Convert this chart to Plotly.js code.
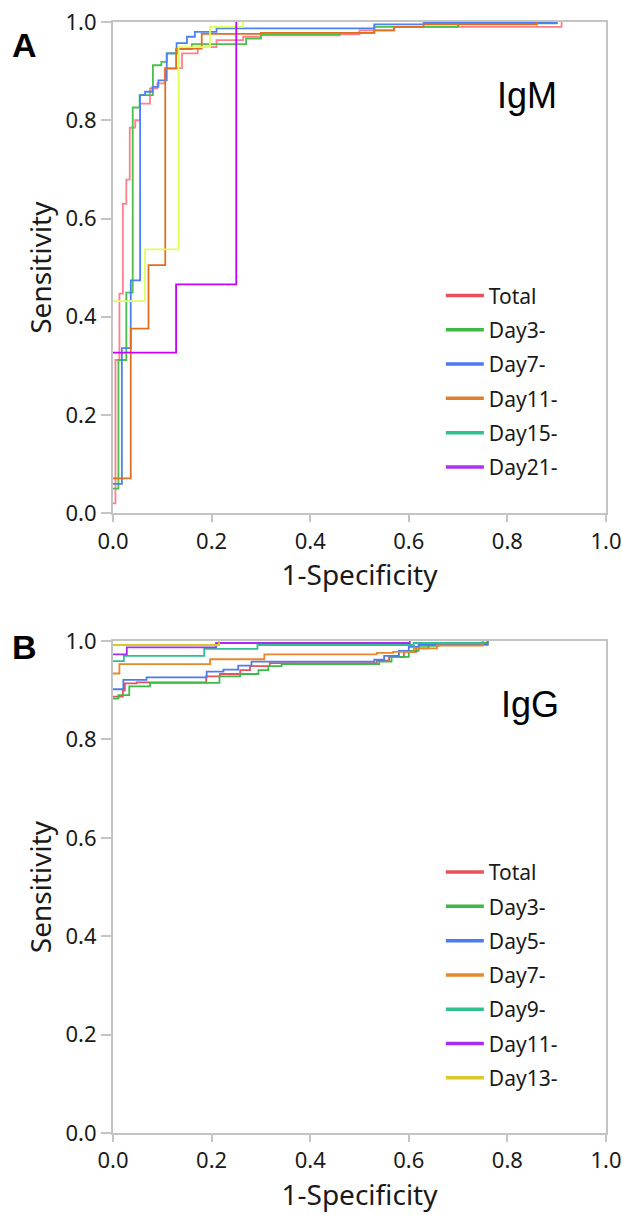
<!DOCTYPE html>
<html><head><meta charset="utf-8">
<script src="https://cdn.plot.ly/plotly-3.0.1.min.js"></script>
<style>body{margin:0;background:#fff}#chart{width:622px;height:1215px}</style>
</head><body><div id="chart"></div>
<script>
// ---------- Panel A (IgM) ----------
const namesA = ['Total','Day3-','Day7-','Day11-','Day15-','Day21-'];
const legendColorsA = ['#e8505b','#3dba45','#4a7cf0','#e0802c','#2ec08f','#b030f0'];
const lineColorsA = ['#ff7f8c','#4cc04c','#4a82f5','#e07020','#dcff5a','#c800ff'];
const fprA_Total = [0, 0.005, 0.013, 0.02, 0.027, 0.034, 0.045, 0.055, 0.075, 0.09, 0.105, 0.14, 0.172, 0.21, 0.264, 0.30, 0.46, 0.50, 0.57, 0.91];
const tprA_Total = [0.02, 0.312, 0.447, 0.63, 0.679, 0.785, 0.80, 0.834, 0.865, 0.875, 0.906, 0.936, 0.949, 0.963, 0.97, 0.973, 0.975, 0.983, 0.99, 1.0];
const fprA_Day3 = [0, 0.011, 0.027, 0.04, 0.054, 0.081, 0.098, 0.109, 0.13, 0.16, 0.27, 0.30, 0.46, 0.53, 0.70, 0.90];
const tprA_Day3 = [0.05, 0.312, 0.449, 0.826, 0.851, 0.912, 0.919, 0.936, 0.945, 0.955, 0.966, 0.975, 0.978, 0.99, 0.997, 1.0];
const fprA_Day7 = [0, 0.018, 0.036, 0.055, 0.065, 0.08, 0.092, 0.109, 0.129, 0.15, 0.166, 0.21, 0.53, 0.63, 0.90];
const tprA_Day7 = [0.06, 0.336, 0.474, 0.851, 0.858, 0.868, 0.881, 0.936, 0.957, 0.97, 0.98, 0.987, 0.995, 0.998, 1.0];
const fprA_Day11 = [0, 0.036, 0.072, 0.106, 0.128, 0.18, 0.30, 0.53, 0.57, 0.63, 0.86];
const tprA_Day11 = [0.071, 0.376, 0.505, 0.905, 0.946, 0.976, 0.978, 0.983, 0.99, 0.995, 1.0];
const fprA_Day15 = [0, 0.065, 0.133, 0.197, 0.264];
const tprA_Day15 = [0.432, 0.537, 0.949, 0.99, 1.0];
const fprA_Day21 = [0, 0.128, 0.25];
const tprA_Day21 = [0.327, 0.466, 1.0];
const seriesA = [[fprA_Total,tprA_Total],[fprA_Day3,tprA_Day3],[fprA_Day7,tprA_Day7],[fprA_Day11,tprA_Day11],[fprA_Day15,tprA_Day15],[fprA_Day21,tprA_Day21]];

// ---------- Panel B (IgG) ----------
const namesB = ['Total','Day3-','Day5-','Day7-','Day9-','Day11-','Day13-'];
const colorsB = ['#e8505b','#3dba45','#4a7cf0','#e8872c','#2ec08f','#a52cf0','#d8c82a'];
const fprB_Total = [0, 0.02, 0.024, 0.048, 0.189, 0.217, 0.258, 0.278, 0.318, 0.535, 0.56, 0.59, 0.615, 0.64, 0.76];
const tprB_Total = [0.887, 0.90, 0.914, 0.916, 0.928, 0.933, 0.941, 0.949, 0.955, 0.96, 0.968, 0.978, 0.985, 0.993, 1.0];
const fprB_Day3 = [0, 0.011, 0.033, 0.075, 0.216, 0.258, 0.295, 0.315, 0.342, 0.54, 0.565, 0.60, 0.62, 0.66, 0.76];
const tprB_Day3 = [0.883, 0.89, 0.908, 0.915, 0.928, 0.933, 0.941, 0.949, 0.953, 0.958, 0.968, 0.98, 0.99, 0.996, 1.0];
const fprB_Day5 = [0, 0.021, 0.068, 0.19, 0.224, 0.254, 0.281, 0.53, 0.55, 0.58, 0.60, 0.62, 0.76];
const tprB_Day5 = [0.902, 0.921, 0.926, 0.938, 0.942, 0.95, 0.958, 0.962, 0.97, 0.98, 0.988, 0.993, 1.0];
const fprB_Day7 = [0, 0.013, 0.197, 0.307, 0.535, 0.568, 0.61, 0.657, 0.75];
const tprB_Day7 = [0.934, 0.953, 0.963, 0.973, 0.976, 0.978, 0.985, 0.991, 1.0];
const fprB_Day9 = [0, 0.022, 0.185, 0.293, 0.61, 0.75];
const tprB_Day9 = [0.959, 0.970, 0.984, 0.992, 0.996, 1.0];
const fprB_Day11 = [0, 0.028, 0.209, 0.602];
const tprB_Day11 = [0.973, 0.987, 0.996, 1.0];
const fprB_Day13 = [0, 0.215];
const tprB_Day13 = [0.992, 1.0];
const seriesB = [[fprB_Total,tprB_Total],[fprB_Day3,tprB_Day3],[fprB_Day5,tprB_Day5],[fprB_Day7,tprB_Day7],[fprB_Day9,tprB_Day9],[fprB_Day11,tprB_Day11],[fprB_Day13,tprB_Day13]];

const tickVals = [0, 0.2, 0.4, 0.6, 0.8, 1.0];
const tickText = ['0.0','0.2','0.4','0.6','0.8','1.0'];

const FONT = '"Noto Sans", "DejaVu Sans", sans-serif';
const TXT = '#1a1a1a';
const traces = [];
seriesA.forEach((s, i) => {
  traces.push({x: s[0], y: s[1], xaxis: 'x', yaxis: 'y', mode: 'lines', line: {shape: 'hv', color: lineColorsA[i], width: 1.8}, showlegend: false, hoverinfo: 'skip'});
});
namesA.forEach((n, i) => {
  traces.push({x: [null], y: [null], xaxis: 'x', yaxis: 'y', mode: 'lines', name: n, legend: 'legend', legendgroup: 'a' + i, line: {color: legendColorsA[i], width: 3.5}, showlegend: true});
});
seriesB.forEach((s, i) => {
  traces.push({x: s[0], y: s[1], xaxis: 'x2', yaxis: 'y2', mode: 'lines', line: {shape: 'hv', color: colorsB[i], width: 1.8}, showlegend: false, hoverinfo: 'skip'});
});
namesB.forEach((n, i) => {
  traces.push({x: [null], y: [null], xaxis: 'x2', yaxis: 'y2', mode: 'lines', name: n, legend: 'legend2', legendgroup: 'b' + i, line: {color: colorsB[i], width: 3.5}, showlegend: true});
});

function xax(anchor) {
  return {anchor: anchor, domain: [0, 1], range: [0, 1], tickvals: tickVals, ticktext: tickText,
    ticks: 'outside', ticklen: 7, tickwidth: 2, tickcolor: '#c4c4c4', ticklabeloverflow: 'allow',
    showline: true, linecolor: '#c4c4c4', linewidth: 2, mirror: true,
    showgrid: false, zeroline: false, tickfont: {size: 22, color: TXT},
    title: {text: '1-Specificity', font: {size: 28, color: TXT}, standoff: 12}};
}
function yax(anchor, dom) {
  return {anchor: anchor, domain: dom, range: [0, 1], tickvals: tickVals, ticktext: tickText,
    ticks: 'outside', ticklen: 10, tickwidth: 2, tickcolor: '#c4c4c4',
    showline: true, linecolor: '#c4c4c4', linewidth: 2, mirror: true,
    showgrid: false, zeroline: false, tickfont: {size: 22, color: TXT},
    title: {text: 'Sensitivity', font: {size: 28, color: TXT}, standoff: 6}};
}

const layout = {
  width: 622, height: 1215,
  margin: {l: 113, r: 16, t: 22, b: 82},
  paper_bgcolor: '#ffffff', plot_bgcolor: '#ffffff',
  font: {family: FONT, color: TXT},
  xaxis: xax('y'),
  yaxis: yax('x', [0.5578, 1]),
  xaxis2: xax('y2'),
  yaxis2: yax('x2', [0, 0.4428]),
  legend: {x: 0.665, y: 0.772, xanchor: 'left', yanchor: 'top', font: {size: 21, color: TXT},
    bgcolor: 'rgba(0,0,0,0)', tracegroupgap: 4, traceorder: 'grouped', itemwidth: 38},
  legend2: {x: 0.665, y: 0.253, xanchor: 'left', yanchor: 'top', font: {size: 21, color: TXT},
    bgcolor: 'rgba(0,0,0,0)', tracegroupgap: 4, traceorder: 'grouped', itemwidth: 38},
  annotations: [
    {text: '<b>A</b>', xref: 'paper', yref: 'paper', x: -0.1785, y: 0.979, showarrow: false,
      font: {family: '"Liberation Sans", Arial, sans-serif', size: 34, color: '#000'}, xanchor: 'center', yanchor: 'middle'},
    {text: '<b>B</b>', xref: 'paper', yref: 'paper', x: -0.1785, y: 0.4374, showarrow: false,
      font: {family: '"Liberation Sans", Arial, sans-serif', size: 34, color: '#000'}, xanchor: 'center', yanchor: 'middle'},
    {text: 'IgM', xref: 'x', yref: 'y', x: 0.84, y: 0.85, showarrow: false,
      font: {family: '"Liberation Sans", Arial, sans-serif', size: 36, color: '#000'}, xanchor: 'center', yanchor: 'middle'},
    {text: 'IgG', xref: 'x2', yref: 'y2', x: 0.846, y: 0.872, showarrow: false,
      font: {family: '"Liberation Sans", Arial, sans-serif', size: 36, color: '#000'}, xanchor: 'center', yanchor: 'middle'}
  ]
};

Plotly.newPlot('chart', traces, layout, {staticPlot: true, displayModeBar: false});
</script></body></html>
